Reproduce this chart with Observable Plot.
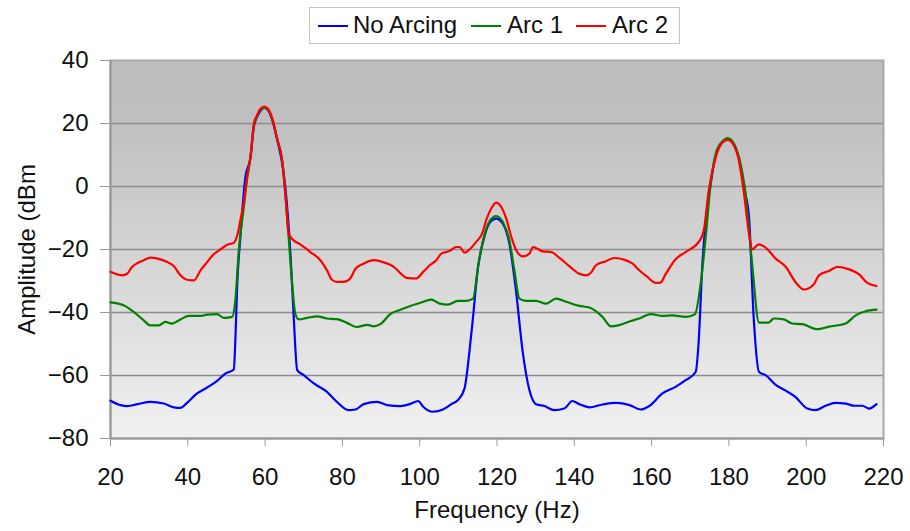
<!DOCTYPE html>
<html>
<head>
<meta charset="utf-8">
<script src="https://cdn.jsdelivr.net/npm/d3@7"></script>
<script src="https://cdn.jsdelivr.net/npm/@observablehq/plot@0.6"></script>
<style>
  body { margin: 0; background: #fff; font-family: "Liberation Sans", Arial, sans-serif; }
  #wrap { position: relative; width: 910px; height: 531px; overflow: hidden; }
  #legend { position: absolute; left: 309px; top: 7px; width: 371px; height: 37px; border: 1px solid #c4c4c4; box-sizing: border-box; background: #fff; z-index: 2; }
  .sw { position: absolute; top: 17px; width: 30px; height: 2px; }
  .lt { position: absolute; top: 4px; font-size: 24px; line-height: 26px; color: #111; white-space: nowrap; }
  #chart { position: absolute; left: 0; top: 0; }
</style>
</head>
<body>
<div id="wrap">
  <div id="legend"></div>
  <div id="chart"></div>
</div>
<script>
// ---- data ----
const seriesNames = ["No Arcing", "Arc 1", "Arc 2"];
const seriesColors = ["#0000ff", "#008000", "#ff0000"];
const xTicks = [20, 40, 60, 80, 100, 120, 140, 160, 180, 200, 220];
const yTicks = [-80, -60, -40, -20, 0, 20, 40];

const noArcFreq = [20, 22.6, 24.3, 27, 30.3, 33.8, 36.4, 38.1, 39.8, 42.4, 45, 47.6, 49.7, 51.9, 52.3, 52.8, 53.6, 54.9, 56.2, 57.1, 57.9, 58.8, 59.8, 60.9, 62, 63.1, 64.6, 65.3, 66.6, 67.4, 68.3, 70, 72.6, 76, 78.6, 81.6, 83.4, 85.5, 89, 91.6, 95, 97.4, 99.6, 100.9, 103.4, 106, 108.2, 109.9, 111.6, 112.9, 113.8, 115.1, 116.4, 118.1, 119.8, 121.5, 123.2, 124.9, 126.6, 128.4, 130.1, 132.3, 134.8, 137.4, 139.5, 141.3, 143.9, 147.3, 150.8, 154.3, 157.2, 159.4, 162.8, 166.2, 168.8, 171.4, 172.2, 173.1, 174.4, 175.3, 176.6, 178.3, 179.7, 181.3, 182.6, 184.3, 185.2, 186.4, 187.8, 189.5, 192.1, 194.7, 197.2, 200.3, 202.4, 205, 207.6, 210.2, 212.4, 214.5, 216.3, 218.2];
const noArcVals = [-68, -69.4, -69.7, -69.1, -68.4, -68.9, -70.1, -70.3, -68.7, -65.7, -63.8, -61.7, -59.4, -58.1, -48.8, -30.8, -16, 3, 9, 19, 22, 24, 25, 24, 20.5, 15, 6, -1, -22.4, -41.4, -58.3, -59.9, -62.5, -65.2, -68.4, -71, -70.8, -69.1, -68.4, -69.4, -69.7, -69.1, -68.1, -69.9, -71.5, -70.8, -69.1, -67.8, -64.1, -52, -41.4, -25.5, -17.5, -11.5, -10.2, -11.8, -18.1, -32.9, -52, -64.7, -69.1, -69.7, -71, -70.5, -68.1, -69.1, -70.1, -69.2, -68.7, -69.4, -70.8, -69.7, -65.7, -63.6, -61.5, -58.9, -48.8, -25.5, -6.5, 1, 10, 14, 15, 13.4, 9, -2.5, -9.7, -41.4, -58.9, -59.9, -63, -64.8, -66.8, -70.5, -71, -69.6, -68.7, -68.9, -69.6, -69.6, -70.5, -69.1];

const arc1Freq = [20, 23.4, 26, 28.6, 30.3, 32.5, 34.2, 35.9, 38.1, 40.3, 43.3, 45, 47.6, 49.3, 51.5, 52.3, 53.2, 54.5, 55.3, 56.2, 57.1, 57.9, 58.8, 59.8, 60.9, 62, 63.1, 64.4, 65.7, 67, 67.8, 68.7, 70.9, 73.4, 76, 78.6, 81.2, 83.8, 86.4, 88.1, 89.8, 92.4, 95, 97.4, 100, 103, 105.2, 107.3, 109.9, 112, 113.8, 115.1, 116.4, 118.1, 119.8, 121.5, 123.2, 124.5, 125.8, 127.5, 130.1, 132.7, 135.3, 137.9, 141.3, 143.9, 147.3, 149.5, 151.6, 154.6, 156.8, 159.8, 162.8, 165.4, 168.8, 171.2, 172.7, 174, 175.3, 176.6, 178.3, 179.7, 181.3, 182.6, 184.3, 186, 187.8, 190.3, 191.6, 194.2, 196.4, 199, 202.9, 205.9, 210.2, 212.8, 215.4, 218.2];
const arc1Vals = [-36.8, -37.7, -39.8, -42.5, -44.1, -44.1, -43, -43.5, -42.2, -41.1, -41.1, -40.7, -40.5, -41.7, -41.4, -36.1, -20.3, -6.5, 2, 9, 19.5, 22.3, 24.4, 25, 24.2, 20.8, 15.2, 8.5, -9.7, -30.8, -40.3, -42.2, -41.7, -41.2, -41.9, -42.1, -43.3, -44.6, -43.9, -44.4, -43.7, -40.5, -39.1, -38, -37, -35.9, -37.2, -37.5, -36.3, -36.3, -35.6, -25.5, -17.1, -11, -9.4, -11.3, -17.1, -26.6, -35.6, -36.3, -36.3, -37.2, -35.6, -36.6, -37.9, -38.4, -41.4, -44.4, -44, -42.7, -41.9, -40.5, -41.1, -40.9, -41.4, -40.6, -30.8, -16, 1, 10.5, 14.3, 15.4, 13.6, 9.3, -2.3, -24.5, -43.2, -43.2, -41.9, -42.2, -43.5, -43.7, -45.3, -44.5, -43.5, -40.9, -39.6, -39.1];

const arc2Freq = [20, 23, 24.3, 25.6, 27, 28.6, 30.3, 32, 34.7, 36.4, 38.1, 39.8, 41.6, 43.3, 45, 46.7, 48.4, 50.2, 51.9, 52.8, 53.6, 54.7, 55.3, 56.2, 57.1, 57.9, 58.8, 59.8, 60.9, 62, 63.1, 64.4, 65.3, 66.1, 67.4, 69.1, 71.7, 74.3, 76, 77.3, 78.6, 80.3, 82, 83.4, 85.5, 88.1, 90.7, 93.3, 95, 96.6, 99.1, 100.9, 102.6, 104.3, 105.6, 107.7, 109.5, 110.3, 111.6, 112.9, 114.6, 116.2, 117.2, 118.5, 119.8, 121.1, 122.4, 123.7, 125, 126.7, 128.4, 129.3, 130.1, 131.8, 134, 136.1, 138.7, 141.3, 143, 144.3, 145.6, 148.2, 150.3, 152.5, 155.1, 156.8, 158.9, 161.1, 162.3, 163.6, 166.2, 168.8, 172.2, 173.5, 174.8, 176.5, 178.2, 179.7, 181.3, 182.4, 183.8, 185.2, 186, 187.7, 189.5, 192.1, 194.7, 197.2, 199.4, 202, 203.3, 205.9, 208.1, 211.1, 213.7, 215.8, 218.2];
const arc2Vals = [-27.1, -28.2, -27.7, -25.5, -24.3, -23.4, -22.6, -22.8, -24, -25.3, -28.2, -29.6, -29.8, -26.6, -24, -21.5, -20, -18.5, -17.9, -15.5, -10.7, -3.3, 3, 9.3, 19.9, 22.6, 24.7, 25.4, 24.4, 21, 15.2, 8.3, -3.3, -15, -17.1, -18.4, -20.8, -23.4, -26.6, -29.6, -30.3, -30.3, -29.2, -26.1, -24.5, -23.4, -24.1, -25.5, -27.5, -29, -29.2, -27.1, -25, -23.4, -21.3, -20.5, -19.2, -19.2, -21, -20, -17.6, -14.8, -10.7, -7, -5.1, -6.5, -10.2, -16, -20.3, -22.2, -21.3, -19.2, -19.5, -20.6, -20.8, -22.6, -25.3, -27.7, -28.2, -27.4, -25, -23.7, -22.7, -23.1, -24.5, -26.6, -28.7, -30.6, -30.5, -27.9, -23.1, -20.8, -17.6, -13.9, -1.2, 8.8, 13.8, 14.8, 13, 9.3, -1.2, -15, -20, -18.4, -19.4, -22.9, -25.5, -30.3, -32.7, -31, -28.2, -26.8, -25.5, -26.3, -27.9, -30.6, -31.6];

const freqs = [noArcFreq, arc1Freq, arc2Freq];
const vals = [noArcVals, arc1Vals, arc2Vals];

// ---- legend (HTML, above the plot) ----
const legendPos = [[8, 43], [161, 197], [266, 302]];
const legend = document.getElementById("legend");
seriesNames.forEach((name, i) => {
  const sw = document.createElement("div");
  sw.className = "sw";
  sw.style.left = legendPos[i][0] + "px";
  sw.style.background = seriesColors[i];
  legend.appendChild(sw);
  const t = document.createElement("div");
  t.className = "lt";
  t.style.left = legendPos[i][1] + "px";
  t.textContent = name;
  legend.appendChild(t);
});

// ---- plot ----
const defs = () => {
  const d = d3.create("svg:defs");
  const lg = d.append("linearGradient").attr("id", "bg")
    .attr("x1", 0).attr("y1", 0).attr("x2", 0).attr("y2", 1);
  lg.append("stop").attr("offset", "0").attr("stop-color", "#bdbdbd");
  lg.append("stop").attr("offset", "0.15").attr("stop-color", "#bfbfbf");
  lg.append("stop").attr("offset", "1").attr("stop-color", "#f1f1f1");
  return d.node();
};

const lineMarks = seriesNames.map((name, s) =>
  Plot.line(d3.range(freqs[s].length), {
    x: i => freqs[s][i],
    y: i => vals[s][i],
    stroke: seriesColors[s],
    strokeWidth: 2.2,
    curve: "monotone-x"
  })
);

const chart = Plot.plot({
  width: 910,
  height: 531,
  marginLeft: 110,
  marginRight: 27,
  marginTop: 60,
  marginBottom: 93,
  style: { fontFamily: "'Liberation Sans', Arial, sans-serif", fontSize: "24px", color: "#111", background: "transparent", overflow: "visible" },
  x: { domain: [20, 220], ticks: xTicks, label: null },
  y: { domain: [-80, 40], ticks: yTicks, label: null },
  marks: [
    defs,
    Plot.frame({ fill: "url(#bg)" }),
    Plot.gridY(yTicks.filter(v => v > -80 && v < 40), { stroke: "#8c8c8c", strokeOpacity: 1, strokeWidth: 1.6 }),
    Plot.frame({ stroke: "#a8a8a8", strokeWidth: 2 }),
    Plot.ruleX([20], { stroke: "#9a9a9a", strokeWidth: 2 }),
    Plot.ruleY([-80], { stroke: "#9a9a9a", strokeWidth: 2 }),
    Plot.axisY({ ticks: yTicks, tickSize: 10, tickPadding: 12, stroke: "#9a9a9a", fill: "#111", label: null, fontSize: 24 }),
    Plot.axisX({ ticks: xTicks, tickSize: 8, tickPadding: 21, stroke: "#9a9a9a", fill: "#111", label: null, fontSize: 24 }),
    Plot.text(["Frequency (Hz)"], { frameAnchor: "bottom", dy: 72, fontSize: 24, fill: "#111", lineAnchor: "middle", textAnchor: "middle" }),
    Plot.text(["Amplitude (dBm"], { frameAnchor: "left", dx: -83, rotate: -90, fontSize: 24, fill: "#111", lineAnchor: "middle", textAnchor: "middle" }),
    ...lineMarks
  ]
});
document.getElementById("chart").appendChild(chart);
</script>
</body>
</html>
